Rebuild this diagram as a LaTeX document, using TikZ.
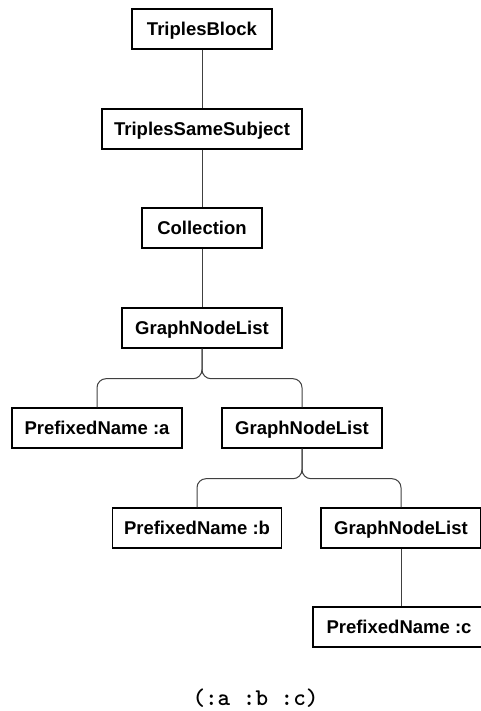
\documentclass[tikz,border=0pt]{standalone}
\usepackage{fontspec}
\setmainfont{Liberation Sans}
\begin{document}
\begin{tikzpicture}[x=1pt,y=-1pt,
  treenode/.style={draw=black, line width=1.4pt, fill=white, minimum height=40pt,
    inner sep=0pt, text height=13.3pt, text depth=0pt,
    font=\fontsize{18.5}{22}\selectfont\bfseries},
  edge/.style={draw=black!75, line width=1pt},
  branch/.style={edge, rounded corners=9pt},
  codetext/.style={font=\ttfamily\bfseries\fontsize{24}{27}\selectfont}]
\useasboundingbox (0,0) rectangle (481,711);

% parse tree nodes
\node[treenode, minimum width=140pt] (tb)  at (202,29)  {TriplesBlock};
\node[treenode, minimum width=200pt] (tss) at (202,129) {TriplesSameSubject};
\node[treenode, minimum width=120pt] (col) at (202,228) {Collection};
\node[treenode, minimum width=160pt] (gl1) at (202,328) {GraphNodeList};
\node[treenode, minimum width=170pt] (pa)  at (97,428)  {PrefixedName :a};
\node[treenode, minimum width=160pt] (gl2) at (302,428) {GraphNodeList};
\node[treenode, minimum width=169pt] (pb)  at (197,528) {PrefixedName :b};
\node[treenode, minimum width=160pt] (gl3) at (401,528) {GraphNodeList};
\node[treenode, minimum width=172pt] (pc)  at (399,627) {PrefixedName :c};

% straight links
\draw[edge] (tb.south) -- (tss.north);
\draw[edge] (tss.south) -- (col.north);
\draw[edge] (col.south) -- (gl1.north);
\draw[edge] (gl3.south) -- (gl3.south |- pc.north);

% brace-shaped forks
\draw[branch] (gl1.south) -- ++(0,30) -| (pa.north);
\draw[branch] (gl1.south) -- ++(0,30) -| (gl2.north);
\draw[branch] (gl2.south) -- ++(0,30) -| (pb.north);
\draw[branch] (gl2.south) -- ++(0,30) -| (gl3.north);

% source expression
\node[codetext] (expr) at (255.5,698.5) {(:a :b :c)};
\end{tikzpicture}
\end{document}
